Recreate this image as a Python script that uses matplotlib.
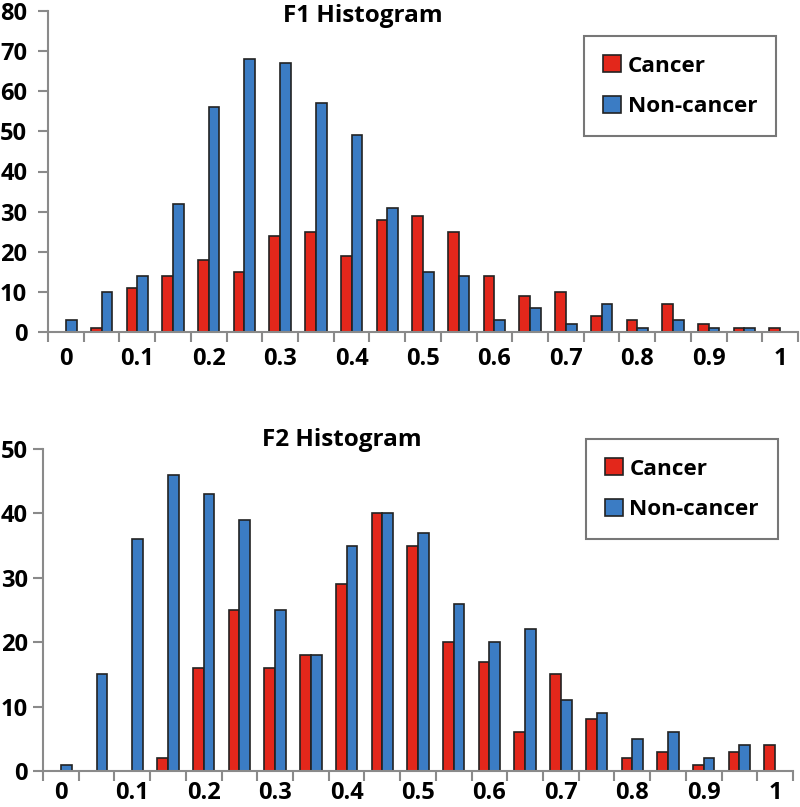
import matplotlib
matplotlib.use("Agg")
import matplotlib.pyplot as plt
import numpy as np
from matplotlib.patches import Patch

categories = ["0", "0.05", "0.1", "0.15", "0.2", "0.25", "0.3", "0.35", "0.4", "0.45", "0.5",
              "0.55", "0.6", "0.65", "0.7", "0.75", "0.8", "0.85", "0.9", "0.95", "1"]
tick_labels = ["0", "0.1", "0.2", "0.3", "0.4", "0.5", "0.6", "0.7", "0.8", "0.9", "1"]

f1_cancer = [0, 1, 11, 14, 18, 15, 24, 25, 19, 28, 29, 25, 14, 9, 10, 4, 3, 7, 2, 1, 1]
f1_noncancer = [3, 10, 14, 32, 56, 68, 67, 57, 49, 31, 15, 14, 3, 6, 2, 7, 1, 3, 1, 1, 0]

f2_cancer = [0, 0, 0, 2, 16, 25, 16, 18, 29, 40, 35, 20, 17, 6, 15, 8, 2, 3, 1, 3, 4]
f2_noncancer = [1, 15, 36, 46, 43, 39, 25, 18, 35, 40, 37, 26, 20, 22, 11, 9, 5, 6, 2, 4, 0]

RED = "#E3271B"
BLUE = "#3B7CC4"
EDGE = "#222222"
AXC = "#8a8a8a"
FONT = "Open Sans"

plt.rcParams['font.family'] = [FONT, 'DejaVu Sans']
plt.rcParams['font.weight'] = 'bold'

fig = plt.figure(figsize=(8.0, 8.07), dpi=100)
W, H = 800, 807
TS = 17


def make_ax(left_px, top_px, right_px, bottom_px):
    return fig.add_axes([left_px / W, 1 - bottom_px / H,
                         (right_px - left_px) / W, (bottom_px - top_px) / H])


def draw(ax, cancer, noncancer, ymax, ystep, title, title_xy, leg_anchor, ypad, xpad):
    x = np.arange(len(categories))
    bw = 0.3
    ax.bar(x - bw / 2, cancer, width=bw, color=RED, edgecolor=EDGE, linewidth=1.2, label="Cancer")
    ax.bar(x + bw / 2, noncancer, width=bw, color=BLUE, edgecolor=EDGE, linewidth=1.2, label="Non-cancer")
    ax.set_xlim(-0.5, len(categories) - 0.5)
    ax.set_ylim(0, ymax)
    for s in ["top", "right"]:
        ax.spines[s].set_visible(False)
    for s in ["left", "bottom"]:
        ax.spines[s].set_color(AXC)
        ax.spines[s].set_linewidth(1.5)
    ax.set_yticks(np.arange(0, ymax + 1, ystep))
    ax.tick_params(axis='y', length=7, width=1.5, color=AXC, pad=ypad, labelsize=TS)
    ax.set_xticks(np.arange(-0.5, len(categories), 1.0))
    ax.set_xticklabels([])
    ax.tick_params(axis='x', which='major', length=7, width=1.5, color=AXC)
    ax.set_xticks(np.arange(0, len(categories), 2), minor=True)
    ax.set_xticklabels(tick_labels, minor=True)
    ax.tick_params(axis='x', which='minor', length=0, pad=xpad, labelsize=TS)
    for lab in ax.get_xticklabels(minor=True) + ax.get_yticklabels():
        lab.set_fontweight('bold')
    fig.text(title_xy[0] / W, 1 - title_xy[1] / H, title, ha='left', va='center',
             fontsize=17.5, fontweight='bold')
    handles = [Patch(facecolor=RED, edgecolor=EDGE, linewidth=1.2),
               Patch(facecolor=BLUE, edgecolor=EDGE, linewidth=1.2)]
    leg = ax.legend(handles, ["Cancer", "Non-cancer"], loc='upper right', bbox_to_anchor=leg_anchor,
                    fancybox=False, frameon=True, handlelength=0.8, handleheight=0.8,
                    handletextpad=0.3, borderpad=0.85, labelspacing=0.85,
                    prop={'family': FONT, 'weight': 'bold', 'size': 16.2}, borderaxespad=0)
    leg.get_frame().set_edgecolor("#555555")
    leg.get_frame().set_linewidth(1.5)


ax1 = make_ax(48, 11, 798, 332)
draw(ax1, f1_cancer, f1_noncancer, 80, 10, "F1 Histogram", (283, 16), (0.971, 0.922), 8, 11)

ax2 = make_ax(43, 449, 793, 771)
draw(ax2, f2_cancer, f2_noncancer, 50, 10, "F2 Histogram", (262, 440), (0.98, 1.031), 4, 7)

fig.savefig("out.png", dpi=100)
